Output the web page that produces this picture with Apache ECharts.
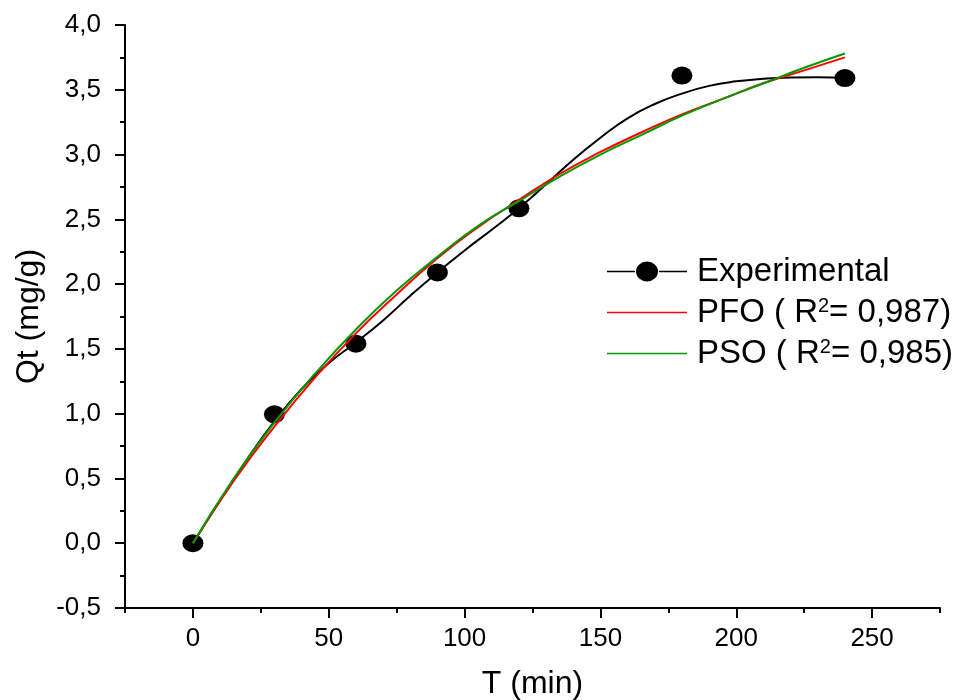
<!doctype html>
<html lang="en">
<head>
<meta charset="UTF-8">
<title>Qt vs T</title>
<script src="https://cdn.jsdelivr.net/npm/echarts@6/dist/echarts.min.js"></script>
<style>
  html, body { margin: 0; padding: 0; background: #fff; }
  #main { width: 962px; height: 700px; }
</style>
</head>
<body>
<div id="main"></div>
<script type="text/javascript">
// experimental points
var tExp = [0, 30, 60, 90, 120, 180, 240];
var qExp = [0, 0.995, 1.54, 2.09, 2.585, 3.61, 3.59];

var tSpline = [0, 10, 20, 30, 40, 50, 60, 70, 80, 90, 100, 110, 120, 130, 140, 150, 160, 170, 180, 190, 200, 210, 220, 230, 240];
var qSpline = [0, 0.33, 0.65, 0.94, 1.19, 1.39, 1.55, 1.72, 1.91, 2.09, 2.26, 2.42, 2.585, 2.77, 2.96, 3.13, 3.28, 3.39, 3.47, 3.53, 3.565, 3.585, 3.595, 3.597, 3.59];

// fitted curves
var tFit = [0, 15, 30, 45, 60, 75, 90, 105, 120, 135, 150, 165, 180, 195, 210, 225, 240];
var qPFO = [0, 0.48, 0.90, 1.28, 1.62, 1.92, 2.20, 2.44, 2.65, 2.85, 3.02, 3.17, 3.31, 3.43, 3.55, 3.65, 3.75];
var qPSO = [0, 0.50, 0.93, 1.31, 1.65, 1.95, 2.21, 2.45, 2.64, 2.83, 3.00, 3.15, 3.30, 3.43, 3.55, 3.67, 3.78];

var xMajor = [0, 50, 100, 150, 200, 250];
var xMinor = [-25, 25, 75, 125, 175, 225, 275];

function zip(xs, ys) {
    return xs.map(function (x, i) { return [x, ys[i]]; });
}

var font = 'Liberation Sans, Arial, sans-serif';
var expIcon = 'path://M0,9.2H28V10.8H0Z M52,9.2H80V10.8H52Z M40,0A11,10 0 1,1 40,20A11,10 0 1,1 40,0Z';
var lineIcon = 'path://M0,9.2H80V10.8H0Z';

var myChart = echarts.init(document.getElementById('main'));

var option = {
    animation: false,
    backgroundColor: '#fff',
    grid: { left: 125, right: 22, top: 25, bottom: 92, outerBoundsMode: 'none' },
    legend: {
        orient: 'vertical',
        left: 607,
        top: 255,
        padding: 0,
        itemWidth: 80,
        itemHeight: 20,
        itemGap: 8,
        data: [
            { name: 'Experimental', icon: expIcon },
            { name: 'PFO', icon: lineIcon },
            { name: 'PSO', icon: lineIcon }
        ],
        formatter: function (name) {
            if (name === 'PFO') return '{a|PFO ( R}{s|2}{a|= 0,987)}';
            if (name === 'PSO') return '{a|PSO ( R}{s|2}{a|= 0,985)}';
            return '{a|Experimental}';
        },
        textStyle: {
            color: '#000',
            fontFamily: font,
            padding: [0, 0, 0, 5],
            rich: {
                a: { fontSize: 33, lineHeight: 33, color: '#000', fontFamily: font },
                s: { fontSize: 20, lineHeight: 16, verticalAlign: 'top', color: '#000', fontFamily: font }
            }
        }
    },
    xAxis: [
        {
            type: 'value',
            min: -25,
            max: 275,
            name: 'T (min)',
            nameLocation: 'middle',
            nameGap: 60,
            nameTextStyle: { fontSize: 32, color: '#000', fontFamily: font },
            axisLine: { show: true, onZero: false, lineStyle: { color: '#000', width: 2 } },
            axisTick: { show: true, inside: false, length: 10, customValues: xMajor, lineStyle: { color: '#000', width: 2 } },
            axisLabel: { customValues: xMajor, margin: 18, fontSize: 26, color: '#000', fontFamily: font },
            splitLine: { show: false }
        },
        {
            type: 'value',
            min: -25,
            max: 275,
            position: 'bottom',
            offset: 0,
            axisLine: { show: false, onZero: false },
            axisTick: { show: true, length: 5, customValues: xMinor, lineStyle: { color: '#000', width: 2 } },
            axisLabel: { show: false },
            splitLine: { show: false }
        }
    ],
    yAxis: {
        type: 'value',
        min: -0.5,
        max: 4,
        interval: 0.5,
        name: 'Qt (mg/g)',
        nameLocation: 'middle',
        nameGap: 78,
        nameTextStyle: { fontSize: 32, color: '#000', fontFamily: font },
        axisLine: { show: true, onZero: false, lineStyle: { color: '#000', width: 2 } },
        axisTick: { show: true, length: 10, lineStyle: { color: '#000', width: 2 } },
        minorTick: { show: true, splitNumber: 2, length: 5, lineStyle: { color: '#000', width: 2 } },
        axisLabel: {
            margin: 24,
            fontSize: 26,
            color: '#000',
            fontFamily: font,
            formatter: function (v) { return v.toFixed(1).replace('.', ','); }
        },
        splitLine: { show: false }
    },
    series: [
        {
            name: 'Experimental',
            type: 'scatter',
            symbol: 'circle',
            symbolSize: [21, 18],
            itemStyle: { color: '#000', opacity: 1 },
            data: zip(tExp, qExp),
            z: 2
        },
        {
            name: 'spline',
            type: 'line',
            smooth: true,
            showSymbol: false,
            lineStyle: { color: '#000', width: 2 },
            data: zip(tSpline, qSpline),
            z: 3
        },
        {
            name: 'PFO',
            type: 'line',
            smooth: true,
            showSymbol: false,
            itemStyle: { color: '#ff0000' },
            lineStyle: { color: '#ff0000', width: 2 },
            data: zip(tFit, qPFO),
            z: 4
        },
        {
            name: 'PSO',
            type: 'line',
            smooth: true,
            showSymbol: false,
            itemStyle: { color: '#009a00' },
            lineStyle: { color: '#009a00', width: 2 },
            data: zip(tFit, qPSO),
            z: 5
        }
    ]
};

myChart.setOption(option);
</script>
</body>
</html>
